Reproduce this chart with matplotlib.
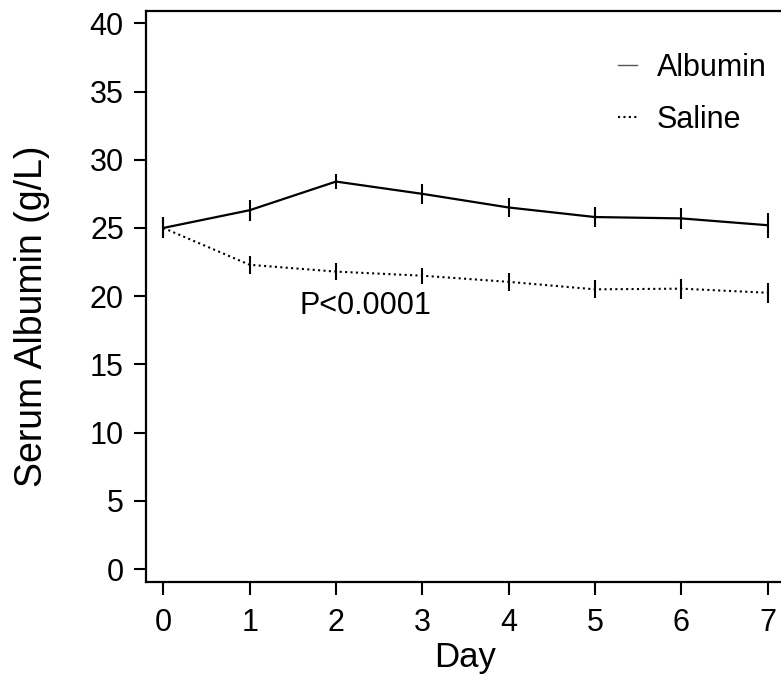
import matplotlib
matplotlib.use("Agg")
import matplotlib.pyplot as plt
from matplotlib.lines import Line2D

plt.rcParams['font.family'] = ['Liberation Sans', 'DejaVu Sans']

# --- data ---
days = [0, 1, 2, 3, 4, 5, 6, 7]
albumin = [25.0, 26.3, 28.4, 27.5, 26.5, 25.8, 25.7, 25.2]
albumin_err = [0.77, 0.76, 0.56, 0.71, 0.67, 0.71, 0.79, 0.90]
saline = [25.0, 22.3, 21.8, 21.5, 21.05, 20.5, 20.55, 20.25]
saline_err = [0.77, 0.65, 0.61, 0.59, 0.67, 0.67, 0.73, 0.73]
y_ticks = [0, 5, 10, 15, 20, 25, 30, 35, 40]

fig = plt.figure(figsize=(7.81, 6.81), dpi=100)
ax = fig.add_axes([0.187, 0.1454, 0.818, 0.8384])

ax.errorbar(days, albumin, yerr=albumin_err, color='black', linewidth=1.6,
            elinewidth=1.5, capsize=0)
ax.errorbar(days, saline, yerr=saline_err, color='black', linewidth=1.5,
            linestyle=(0, (1, 1.6)), elinewidth=1.5, capsize=0)

ax.set_xlim(-0.2, 7.2)
ax.set_ylim(-0.95, 40.9)
ax.set_xticks(days)
ax.set_yticks(y_ticks)

for s in ax.spines.values():
    s.set_linewidth(1.6)
ax.tick_params(direction='out', length=9, width=1.5, labelsize=22)
ax.tick_params(axis='y', pad=7)
ax.tick_params(axis='x', pad=10)

ax.set_xlabel('Day', fontsize=25, labelpad=2)
ax.set_ylabel('Serum Albumin (g/L)', fontsize=27)
ax.yaxis.set_label_coords(-0.150, 0.466)

ax.text(2.34, 19.27, 'P<0.0001', fontsize=22, ha='center', va='center')

handles = [Line2D([], [], color='#555555', linewidth=1.0),
           Line2D([], [], color='black', linewidth=1.5, linestyle=(0, (1, 1.6)))]
fig.legend(handles, ['Albumin', 'Saline'], loc='upper left',
           bbox_to_anchor=(0.791, 0.922), frameon=False, fontsize=22,
           borderpad=0, borderaxespad=0,
           handlelength=0.62, handletextpad=0.65, labelspacing=0.7)

fig.savefig('out.png', dpi=100)
